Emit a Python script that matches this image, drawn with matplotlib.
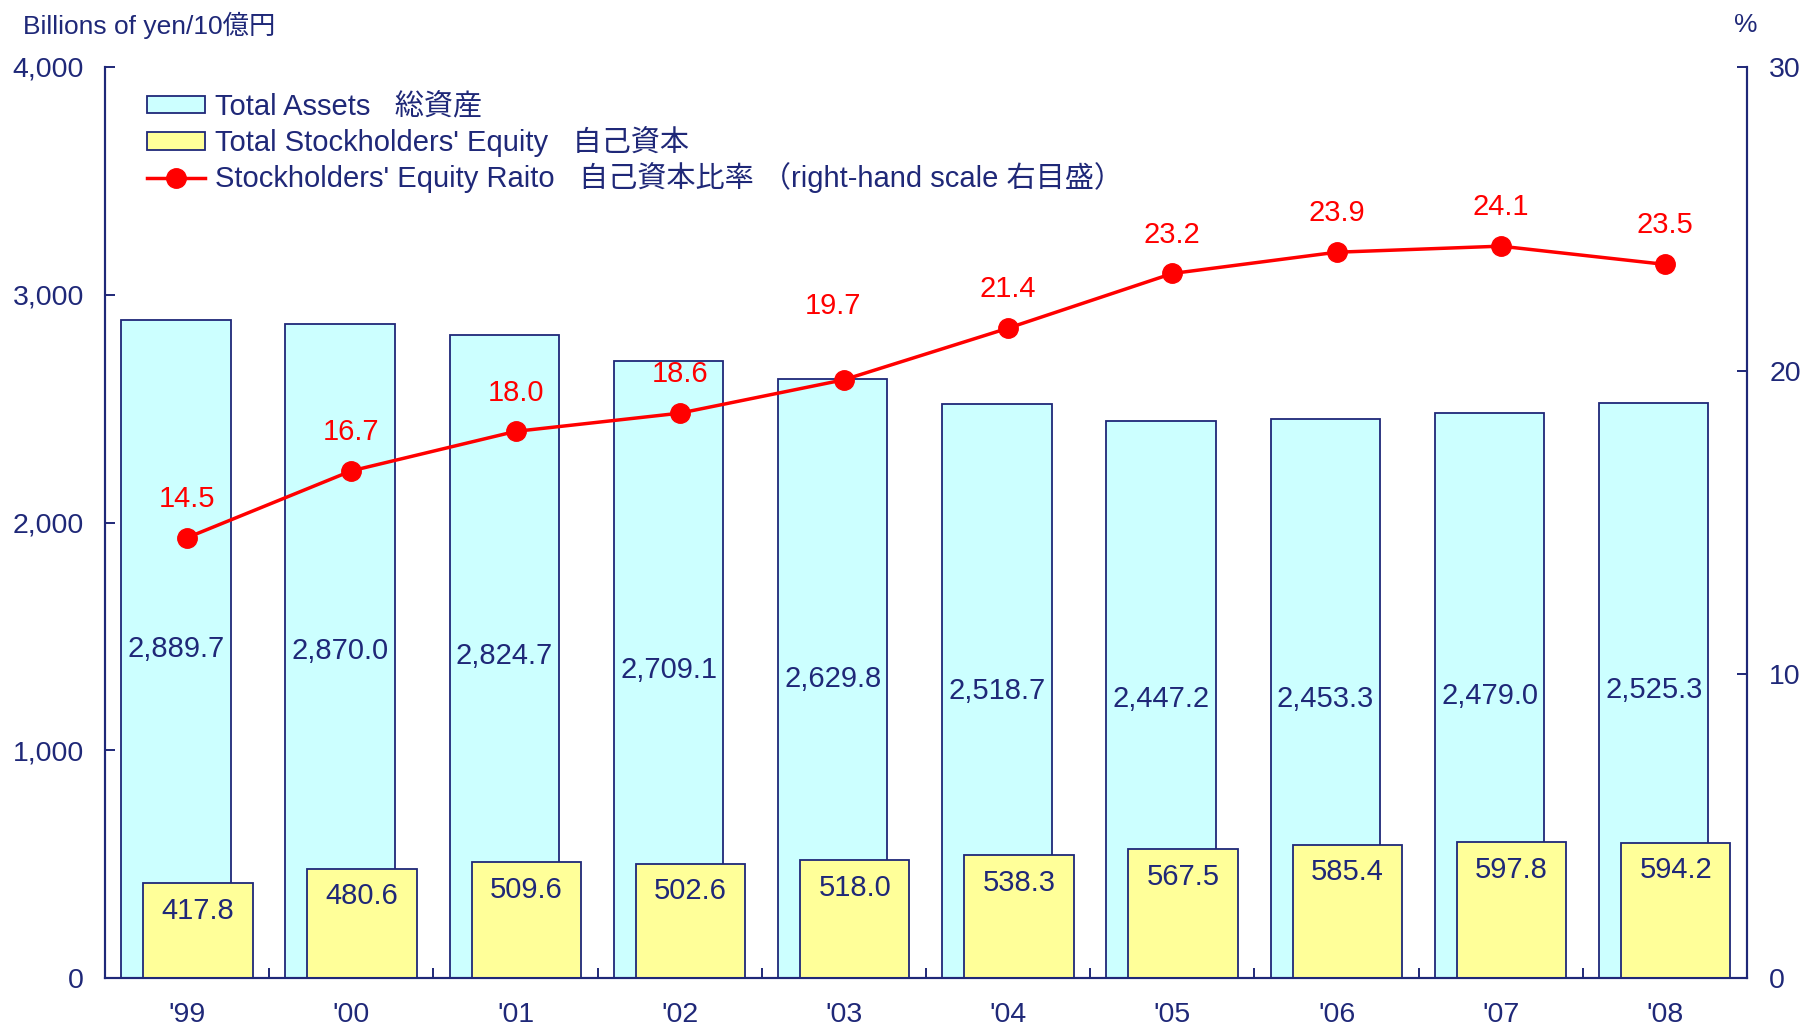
import matplotlib.pyplot as plt
import matplotlib.ticker as mticker
import numpy as np

years = ["'99", "'00", "'01", "'02", "'03", "'04", "'05", "'06", "'07", "'08"]
total_assets = [2889.7, 2870.0, 2824.7, 2709.1, 2629.8, 2518.7, 2447.2, 2453.3, 2479.0, 2525.3]
equity = [417.8, 480.6, 509.6, 502.6, 518.0, 538.3, 567.5, 585.4, 597.8, 594.2]
ratio = [14.5, 16.7, 18.0, 18.6, 19.7, 21.4, 23.2, 23.9, 24.1, 23.5]

navy = '#1f2878'
plt.rcParams['font.family'] = ['Liberation Sans', 'Noto Sans CJK JP']
plt.rcParams['text.color'] = navy

fig = plt.figure(figsize=(18.05, 10.29), dpi=100)
ax = fig.add_axes([105 / 1805, 1 - 978 / 1029, (1747 - 105) / 1805, (978 - 67) / 1029])
ax2 = ax.twinx()

x = np.arange(len(years))
w = 0.667
b1 = ax.bar(x - 0.068, total_assets, w, color='#ccffff', edgecolor=navy, linewidth=1.3,
            label='Total Assets   総資産', zorder=2)
b2 = ax.bar(x + 0.066, equity, w, color='#ffff99', edgecolor=navy, linewidth=1.3,
            label="Total Stockholders' Equity   自己資本", zorder=3)
ln, = ax2.plot(x, ratio, color='red', lw=2.5, marker='o', ms=14,
               label="Stockholders' Equity Raito   自己資本比率 （right-hand scale 右目盛）")

for xi, v in zip(x, total_assets):
    ax.text(xi - 0.068, v / 2, f'{v:,.1f}', ha='center', va='center', fontsize=21, color=navy, zorder=5)
for xi, v in zip(x, equity):
    ax.annotate(f'{v:,.1f}', (xi + 0.066, v), xytext=(0, -20), textcoords='offset points',
                ha='center', va='center', fontsize=21, color=navy, zorder=5)
for i, (xi, v) in enumerate(zip(x, ratio)):
    off = (-8, 53) if i == 4 else (0, 28)
    ax2.annotate(f'{v:.1f}', (xi, v), xytext=off, textcoords='offset points',
                 ha='center', va='center', fontsize=21, color='red')

ax.set_xlim(-0.5, len(years) - 0.5)
ax.set_ylim(0, 4000)
ax2.set_ylim(0, 30)
ax.set_yticks([0, 1000, 2000, 3000, 4000])
ax.yaxis.set_major_formatter(mticker.FuncFormatter(lambda v, p: f'{v:,.0f}'))
ax2.set_yticks([0, 10, 20, 30])

ax.set_xticks(x)
ax.set_xticklabels(years)
ax.set_xticks(np.arange(0.5, len(years) - 1, 1), minor=True)
ax.tick_params(axis='x', which='major', length=0, pad=17, labelsize=20.5, labelcolor=navy)
ax.tick_params(axis='x', which='minor', direction='in', length=7, width=1.4, color=navy)
ax.tick_params(axis='y', direction='in', length=7, width=1.4, color=navy, pad=15,
               labelsize=20.5, labelcolor=navy)
ax2.tick_params(axis='y', direction='in', length=7, width=1.4, color=navy, pad=16,
                labelsize=20.5, labelcolor=navy)

for a in (ax, ax2):
    a.spines['top'].set_visible(False)
    for s in ('left', 'right', 'bottom'):
        a.spines[s].set_color(navy)
        a.spines[s].set_linewidth(1.5)

fig.text(23 / 1805, 1 - 25 / 1029, 'Billions of yen/10億円', ha='left', va='center', fontsize=19, color=navy)
fig.text(1746 / 1805, 1 - 25 / 1029, '%', ha='center', va='center', fontsize=19, color=navy)

leg = ax2.legend([b1, b2, ln], [b1.get_label(), b2.get_label(), ln.get_label()],
                 loc='upper left', bbox_to_anchor=(147 / 1805, 1 - 93 / 1029),
                 bbox_transform=fig.transFigure, frameon=False, fontsize=21,
                 borderpad=0, borderaxespad=0, labelspacing=0.18, handlelength=2.0,
                 handleheight=0.55, handletextpad=0.34)
for t in leg.get_texts():
    t.set_color(navy)

fig.savefig('out.png', dpi=100)
